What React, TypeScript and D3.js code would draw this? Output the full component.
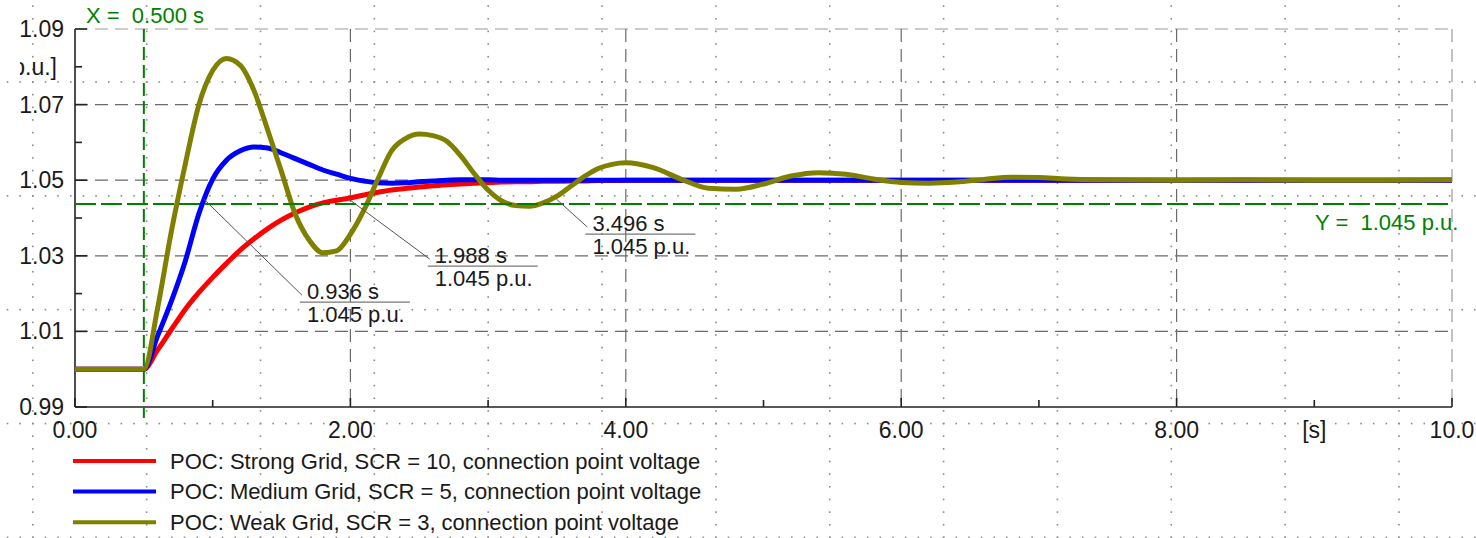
import * as d3 from 'd3';
import { useEffect, useRef } from 'react';

// sample times [s] shared by the three traces
const time = [
    0, 0.5, 0.6, 0.7, 0.8, 0.9, 1.0, 1.1, 1.2, 1.3, 1.4, 1.5, 1.6, 1.7, 1.8, 1.9,
    2.0, 2.1, 2.2, 2.3, 2.4, 2.5, 2.6, 2.7, 2.8, 2.9, 3.0, 3.1, 3.2, 3.3, 3.4, 3.5,
    3.6, 3.7, 3.8, 3.9, 4.0, 4.2, 4.4, 4.6, 4.8, 5.0, 5.2, 5.4, 5.6, 5.8, 6.0, 6.2,
    6.4, 6.6, 6.8, 7.0, 7.2, 7.5, 8.0, 8.5, 9.0, 9.5, 10.0,
];

// connection point voltage [p.u.]
const strongGrid = [
    1.0, 1.0, 1.0051, 1.0105, 1.0158, 1.0203, 1.0243, 1.0280, 1.0315, 1.0345, 1.0372, 1.0395, 1.0414, 1.0429, 1.0440, 1.0447,
    1.0453, 1.0461, 1.0468, 1.0474, 1.0478, 1.0482, 1.0485, 1.0488, 1.0490, 1.0492, 1.0494, 1.0495, 1.0496, 1.0496, 1.0497, 1.0497,
    1.0498, 1.0498, 1.0499, 1.0499, 1.0500, 1.0500, 1.0500, 1.0500, 1.0500, 1.0500, 1.0500, 1.0500, 1.0500, 1.0500, 1.0500, 1.0500,
    1.0500, 1.0500, 1.0500, 1.0500, 1.0500, 1.0500, 1.0500, 1.0500, 1.0500, 1.0500, 1.0500,
];

const mediumGrid = [
    1.0, 1.0, 1.0088, 1.0180, 1.0285, 1.0412, 1.0503, 1.0553, 1.0578, 1.0588, 1.0585, 1.0572, 1.0557, 1.0542, 1.0527, 1.0516,
    1.0505, 1.0498, 1.0493, 1.0492, 1.0493, 1.0496, 1.0498, 1.0500, 1.0501, 1.0501, 1.0501, 1.0500, 1.0500, 1.0500, 1.0500, 1.0500,
    1.0500, 1.0500, 1.0500, 1.0500, 1.0500, 1.0500, 1.0500, 1.0500, 1.0500, 1.0500, 1.0500, 1.0500, 1.0500, 1.0500, 1.0500, 1.0500,
    1.0500, 1.0500, 1.0500, 1.0500, 1.0500, 1.0500, 1.0500, 1.0500, 1.0500, 1.0500, 1.0500,
];

const weakGrid = [
    1.0, 1.0, 1.0162, 1.0365, 1.0541, 1.0700, 1.0790, 1.0822, 1.0804, 1.0737, 1.0632, 1.0522, 1.0410, 1.0342, 1.0308, 1.0313,
    1.0357, 1.0422, 1.0503, 1.0578, 1.0610, 1.0622, 1.0618, 1.0603, 1.0565, 1.0517, 1.0474, 1.0445, 1.0433, 1.0431, 1.0440, 1.0458,
    1.0484, 1.0510, 1.0531, 1.0542, 1.0546, 1.0533, 1.0503, 1.0479, 1.0476, 1.0490, 1.0511, 1.0520, 1.0516, 1.0503, 1.0494, 1.0492,
    1.0495, 1.0502, 1.0508, 1.0507, 1.0503, 1.0501, 1.0500, 1.0501, 1.0500, 1.0500, 1.0501,
];

const seriesNames = [
    'POC: Strong Grid, SCR = 10, connection point voltage',
    'POC: Medium Grid, SCR = 5, connection point voltage',
    'POC: Weak Grid, SCR = 3, connection point voltage',
];

const xTicks = [0, 2, 4, 6, 8, 10];
const xTickLabels = ['0.00', '2.00', '4.00', '6.00', '8.00', '10.0'];
const xMinorTicks = [1, 3, 5, 7, 9];
const xUnit = '[s]';
const xUnitAt = 9;

const yTicks = [0.99, 1.01, 1.03, 1.05, 1.07, 1.09];
const yMinorTicks = [1.0, 1.02, 1.04, 1.06, 1.08];
const yUnit = '[p.u.]';
const yUnitAt = 1.08;

// cursors
const cursorX = 0.5;
const cursorY = 1.0437;
const cursorXLabel = 'X =  0.500 s';
const cursorYLabel = 'Y =  1.045 p.u.';

// crossing markers
const markTimes = [0.936, 1.988, 3.496];
const markValue = 1.045;
const markTimeLabels = ['0.936 s', '1.988 s', '3.496 s'];
const markValueLabels = ['1.045 p.u.', '1.045 p.u.', '1.045 p.u.'];

export default function App() {
    const ref = useRef<SVGSVGElement | null>(null);

    useEffect(() => {
        const svg = d3.select(ref.current);
        svg.selectAll('*').remove();

        const width = 1476;
        const height = 538;
        const font = "'Liberation Sans', Arial, Helvetica, sans-serif";
        const colors = ['#ff0000', '#0000ff', '#808000'];
        const green = '#008000';
        const markOffsets = [[96, 103], [79, 67], [29, 35]];

        const x = d3.scaleLinear().domain([0, 10]).range([75, 1452]);
        const y = d3.scaleLinear().domain([0.99, 1.09]).range([407, 29]);

        svg.attr('width', width).attr('height', height)
            .style('position', 'absolute')
            .style('left', '0px')
            .style('top', '0px')
            .style('background', '#fff')
            .style('font-family', font);

        // page dot grid
        const pitch = 113.85;
        const step = 12.65;
        const dots = svg.append('g').attr('fill', '#8a8a8a');
        d3.range(82, height + 1, pitch).forEach(ry => {
            d3.range(32.8 - 3 * step, width, step).forEach(dx => {
                dots.append('rect').attr('x', dx - 0.8).attr('y', ry - 0.8).attr('width', 1.6).attr('height', 1.6);
            });
        });
        d3.range(32.8, width, pitch).forEach(cx => {
            d3.range(82 - 6 * step, height, step).forEach(dy => {
                dots.append('rect').attr('x', cx - 0.8).attr('y', dy - 0.8).attr('width', 1.6).attr('height', 1.6);
            });
        });

        // dashed grid
        const grid = svg.append('g').attr('fill', 'none').attr('stroke-width', 1.2).attr('stroke-dasharray', '13,7');
        yTicks.slice(1).forEach(v => {
            grid.append('line')
                .attr('x1', x(0)).attr('x2', x(10))
                .attr('y1', y(v)).attr('y2', y(v))
                .attr('stroke', v === 1.09 ? '#9a9a9a' : '#6a6a6a');
        });
        xTicks.slice(1).forEach(t => {
            grid.append('line')
                .attr('x1', x(t)).attr('x2', x(t))
                .attr('y1', y(1.09)).attr('y2', y(0.99))
                .attr('stroke', t === 10 ? '#9a9a9a' : '#6a6a6a');
        });

        // axes
        const axes = svg.append('g').attr('stroke', '#222').attr('stroke-width', 1.6);
        axes.append('line').attr('x1', x(0)).attr('x2', x(0)).attr('y1', y(1.09)).attr('y2', y(0.99));
        axes.append('line').attr('x1', x(0)).attr('x2', x(10)).attr('y1', y(0.99)).attr('y2', y(0.99));
        yTicks.forEach(v => axes.append('line').attr('x1', x(0)).attr('x2', x(0) + 12).attr('y1', y(v)).attr('y2', y(v)));
        yMinorTicks.forEach(v => axes.append('line').attr('x1', x(0)).attr('x2', x(0) + 7).attr('y1', y(v)).attr('y2', y(v)));
        xTicks.forEach(t => axes.append('line').attr('x1', x(t)).attr('x2', x(t)).attr('y1', y(0.99)).attr('y2', y(0.99) - 9));
        xMinorTicks.forEach(t => axes.append('line').attr('x1', x(t)).attr('x2', x(t)).attr('y1', y(0.99)).attr('y2', y(0.99) - 7));

        // tick labels
        const labels = svg.append('g').attr('font-size', 23).attr('fill', '#1a1a1a');
        yTicks.forEach(v => {
            labels.append('text')
                .attr('x', 64).attr('y', y(v)).attr('dy', '0.35em')
                .attr('text-anchor', 'end')
                .text(d3.format('.2f')(v));
        });
        xTicks.forEach((t, i) => {
            labels.append('text')
                .attr('x', x(t)).attr('y', 438)
                .attr('text-anchor', 'middle')
                .text(xTickLabels[i]);
        });
        labels.append('text')
            .attr('x', x(xUnitAt)).attr('y', 438)
            .attr('text-anchor', 'middle')
            .text(xUnit);

        svg.append('clipPath').attr('id', 'unit-clip')
            .append('rect').attr('x', 20).attr('y', 40).attr('width', 60).attr('height', 50);
        labels.append('text')
            .attr('x', 57).attr('y', y(yUnitAt)).attr('dy', '0.35em')
            .attr('text-anchor', 'end')
            .attr('clip-path', 'url(#unit-clip)')
            .text(yUnit);

        // curves
        const line = d3.line<number>()
            .x((_, i) => x(time[i]))
            .y(d => y(d))
            .curve(d3.curveMonotoneX);

        [strongGrid, mediumGrid, weakGrid].forEach((values, i) => {
            svg.append('path')
                .datum(values)
                .attr('d', line)
                .attr('fill', 'none')
                .attr('stroke', colors[i])
                .attr('stroke-width', 5)
                .attr('stroke-linejoin', 'round');
        });

        // cursors
        svg.append('line')
            .attr('x1', x(cursorX)).attr('x2', x(cursorX))
            .attr('y1', y(1.09)).attr('y2', 418)
            .attr('stroke', green).attr('stroke-width', 2)
            .attr('stroke-dasharray', '13,5');
        svg.append('line')
            .attr('x1', x(0)).attr('x2', x(10))
            .attr('y1', y(cursorY)).attr('y2', y(cursorY))
            .attr('stroke', green).attr('stroke-width', 2)
            .attr('stroke-dasharray', '21,5');
        svg.append('text')
            .attr('x', 86).attr('y', 23)
            .attr('font-size', 22).attr('fill', green)
            .style('white-space', 'pre')
            .text(cursorXLabel);
        svg.append('text')
            .attr('x', 1315).attr('y', 230)
            .attr('font-size', 22).attr('fill', green)
            .style('white-space', 'pre')
            .text(cursorYLabel);

        // crossing markers
        markTimes.forEach((t, i) => {
            const px = x(t);
            const py = y(markValue);
            const ux = px + markOffsets[i][0];
            const uy = py + markOffsets[i][1];
            const g = svg.append('g');
            g.append('line')
                .attr('x1', px).attr('y1', py)
                .attr('x2', ux + 2).attr('y2', uy - 7)
                .attr('stroke', '#555').attr('stroke-width', 1);
            g.append('line')
                .attr('x1', ux).attr('x2', ux + 110)
                .attr('y1', uy).attr('y2', uy)
                .attr('stroke', '#777').attr('stroke-width', 1.2);
            g.append('text')
                .attr('x', ux + 7).attr('y', uy - 3.5)
                .attr('font-size', 22).attr('fill', '#1a1a1a')
                .text(markTimeLabels[i]);
            g.append('text')
                .attr('x', ux + 7).attr('y', uy + 19.5)
                .attr('font-size', 22).attr('fill', '#1a1a1a')
                .text(markValueLabels[i]);
        });

        // legend
        const legend = svg.append('g');
        seriesNames.forEach((name, i) => {
            const ly = 461 + i * 30.6;
            legend.append('line')
                .attr('x1', 73).attr('x2', 156)
                .attr('y1', ly).attr('y2', ly)
                .attr('stroke', colors[i]).attr('stroke-width', 4);
            legend.append('text')
                .attr('x', 170).attr('y', ly + 7.5)
                .attr('font-size', 22).attr('fill', '#1a1a1a')
                .text(name);
        });
    }, []);

    return <svg ref={ref}></svg>;
}
